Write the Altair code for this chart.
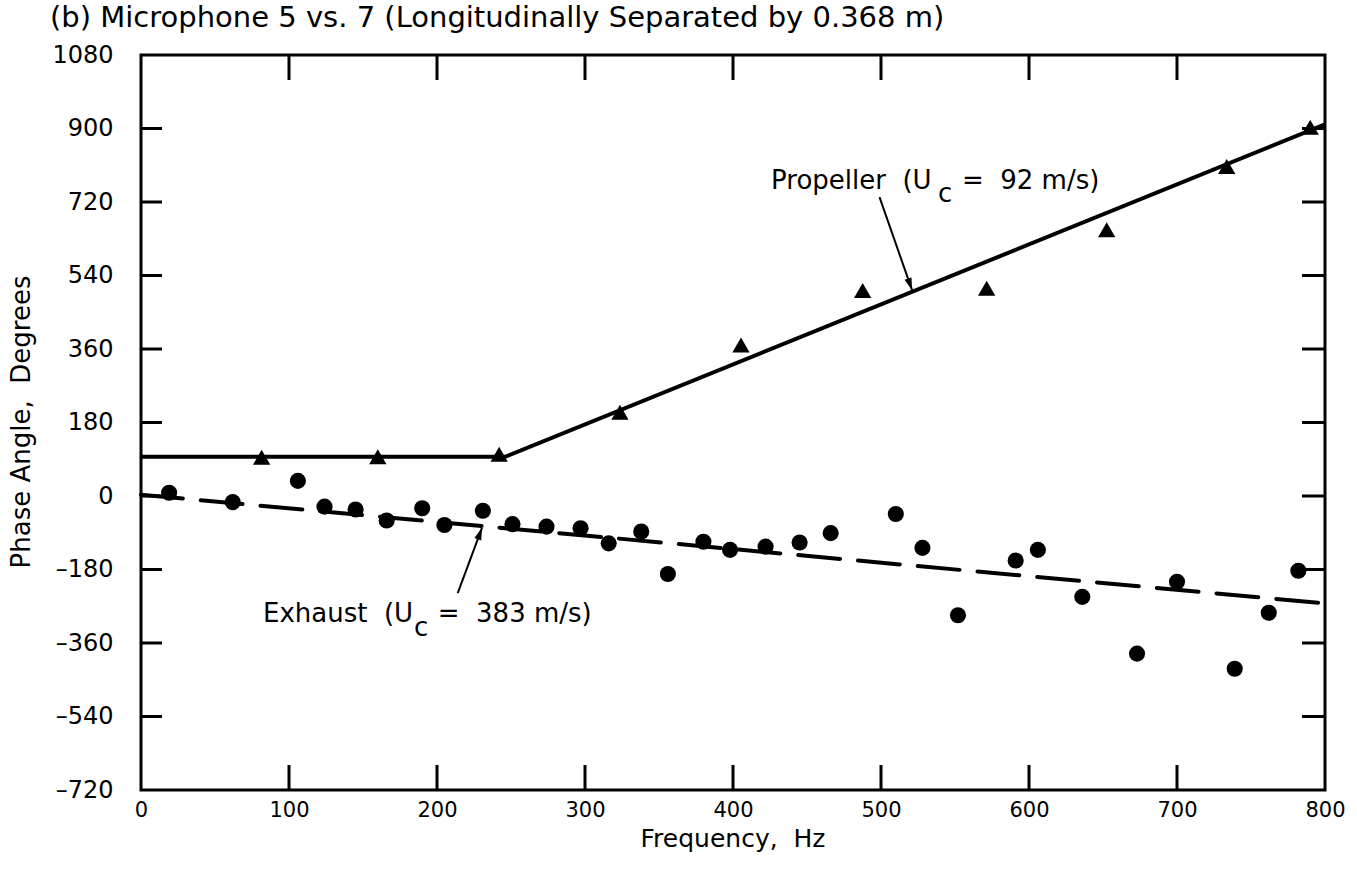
import altair as alt
import pandas as pd

# ---- data ----
prop_freq = [81.5, 160, 242, 323.6, 405.4, 487.6, 571.4, 652.5, 733.6, 790]
prop_phase = [95, 96, 102, 205, 370, 503, 509, 652, 807, 903]

exh_freq = [19, 62, 106, 124, 145, 166, 190, 205, 231, 251, 274, 297, 316, 338, 356,
            380, 398, 422, 445, 466, 510, 528, 552, 591, 606, 636, 673, 700, 739, 762, 782]
exh_phase = [8, -15, 37, -26, -33, -60, -30, -71, -36, -69, -75, -79, -116, -87, -191,
             -112, -132, -124, -114, -91, -44, -127, -292, -158, -132, -247, -386, -210, -423, -286, -183]

prop_fit_freq = [0, 246, 800]
prop_fit_phase = [96, 96, 910]
exh_fit_freq = [0, 800]
exh_fit_phase = [3, -263]

x_ticks = [0, 100, 200, 300, 400, 500, 600, 700, 800]
y_ticks = [-720, -540, -360, -180, 0, 180, 360, 540, 720, 900, 1080]
x_inner_ticks = [100, 200, 300, 400, 500, 600, 700]
y_inner_ticks = [-540, -360, -180, 0, 180, 360, 540, 720, 900]

title_text = "(b) Microphone 5 vs. 7 (Longitudinally Separated by 0.368 m)"
x_title = "Frequency,\u00a0 Hz"
y_title = "Phase Angle,\u00a0 Degrees"

ann_text = ["Propeller\u00a0 (U", "c", "=\u00a0 92 m/s)",
            "Exhaust\u00a0 (U", "c", "=\u00a0 383 m/s)"]
ann_freq = [425.7, 538.5, 554.7, 82.4, 184.5, 200.5]
ann_phase = [752, 720, 752, -309, -343, -309]

arrow_id = ["p", "p", "e", "e"]
arrow_freq = [499, 521, 214, 230.4]
arrow_phase = [732, 504, -238, -78]
head_freq = [521, 230.4]
head_phase = [504, -78]
head_angle = [160.7, 20]

# ---- tables ----
W, H = 1184, 735
FONT = "DejaVu Sans"
xs = alt.Scale(domain=[0, 800], nice=False, zero=False)
ys = alt.Scale(domain=[-720, 1080], nice=False, zero=False)

prop_df = pd.DataFrame({"f": prop_freq, "p": prop_phase})
exh_df = pd.DataFrame({"f": exh_freq, "p": exh_phase})
pfit_df = pd.DataFrame({"f": prop_fit_freq, "p": prop_fit_phase})
efit_df = pd.DataFrame({"f": exh_fit_freq, "p": exh_fit_phase})
ann_df = pd.DataFrame({"t": ann_text, "f": ann_freq, "p": ann_phase})
arr_df = pd.DataFrame({"id": arrow_id, "f": arrow_freq, "p": arrow_phase})
head_df = pd.DataFrame({"f": head_freq, "p": head_phase, "a": head_angle})
xt_df = pd.DataFrame({"f": x_inner_ticks})
yt_df = pd.DataFrame({"p": y_inner_ticks})
one = pd.DataFrame({"k": [0]})

neg_expr = "datum.value < 0 ? '\u2013' + format(-datum.value, 'd') : format(datum.value, 'd')"

X = alt.X("f:Q", scale=xs,
          axis=alt.Axis(values=x_ticks, domain=False, ticks=False, grid=False,
                        labelPadding=9, labelFontSize=21, labelFont=FONT,
                        labelColor="black", title=None, labelFlush=False,
                        labelExpr="format(datum.value, 'd')"))
Y = alt.Y("p:Q", scale=ys,
          axis=alt.Axis(values=y_ticks, domain=False, ticks=False, grid=False,
                        labelPadding=28, labelFontSize=24, labelFont=FONT,
                        labelColor="black", title=None, labelFlush=False,
                        labelExpr=neg_expr))

base_axes = alt.Chart(prop_df).mark_point(opacity=0).encode(x=X, y=Y)

pfit = alt.Chart(pfit_df).mark_line(color="black", strokeWidth=4).encode(
    x=alt.X("f:Q", scale=xs), y=alt.Y("p:Q", scale=ys))
efit = alt.Chart(efit_df).mark_line(color="black", strokeWidth=4, strokeDash=[42, 18],
                                    strokeCap="round").encode(
    x=alt.X("f:Q", scale=xs), y=alt.Y("p:Q", scale=ys))

tri = alt.Chart(prop_df).mark_point(shape="triangle-up", filled=True, color="black",
                                    size=300, opacity=1).encode(
    x=alt.X("f:Q", scale=xs), y=alt.Y("p:Q", scale=ys))
circ = alt.Chart(exh_df).mark_circle(color="black", size=260, opacity=1).encode(
    x=alt.X("f:Q", scale=xs), y=alt.Y("p:Q", scale=ys))

arrows = alt.Chart(arr_df).mark_line(color="black", strokeWidth=2).encode(
    x=alt.X("f:Q", scale=xs), y=alt.Y("p:Q", scale=ys), detail="id:N")
heads = alt.Chart(head_df).mark_point(shape="M0,0 L-0.3,1 L0.3,1 Z", filled=True,
                                      color="black", size=600, opacity=1).encode(
    x=alt.X("f:Q", scale=xs), y=alt.Y("p:Q", scale=ys), angle=alt.Angle("a:Q", scale=None))

ann = alt.Chart(ann_df).mark_text(font=FONT, fontSize=26, align="left",
                                  baseline="alphabetic", color="black").encode(
    x=alt.X("f:Q", scale=xs), y=alt.Y("p:Q", scale=ys), text="t:N")

# frame ticks (inward)
tick_style = dict(color="black", strokeWidth=3)
left_t = alt.Chart(yt_df).mark_rule(**tick_style).encode(
    y=alt.Y("p:Q", scale=ys), x=alt.value(0), x2=alt.value(21))
right_t = alt.Chart(yt_df).mark_rule(**tick_style).encode(
    y=alt.Y("p:Q", scale=ys), x=alt.value(W - 23), x2=alt.value(W))
top_t = alt.Chart(xt_df).mark_rule(**tick_style).encode(
    x=alt.X("f:Q", scale=xs), y=alt.value(0), y2=alt.value(25))
bot_t = alt.Chart(xt_df).mark_rule(**tick_style).encode(
    x=alt.X("f:Q", scale=xs), y=alt.value(H - 25), y2=alt.value(H))

title = alt.Chart(one).mark_text(font=FONT, fontSize=29, align="left", baseline="middle",
                                 color="black", text=title_text).encode(
    x=alt.value(-91), y=alt.value(-37))
xtitle = alt.Chart(one).mark_text(font=FONT, fontSize=25, align="center", baseline="top",
                                  color="black", text=x_title).encode(
    x=alt.value(592), y=alt.value(772))
ytitle = alt.Chart(one).mark_text(font=FONT, fontSize=26, align="center", baseline="middle",
                                  color="black", angle=270, text=y_title).encode(
    x=alt.value(-119), y=alt.value(367))

chart = alt.layer(
    base_axes, left_t, right_t, top_t, bot_t, pfit, efit, arrows, heads, tri, circ, ann,
    title, xtitle, ytitle
).properties(
    width=W, height=H,
    padding={"left": 141, "top": 55, "right": 32, "bottom": 80},
    autosize=alt.AutoSizeParams(type="none"),
    background="white",
).configure_view(stroke="black", strokeWidth=3)

chart.save("out.html", embed_options={"renderer": "svg", "actions": False})
